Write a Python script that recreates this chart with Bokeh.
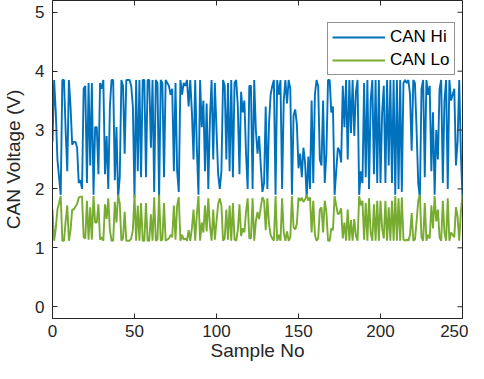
import math
from bokeh.plotting import figure
from bokeh.models import Range1d, FixedTicker, Legend, LegendItem, ColumnDataSource
from bokeh.embed import file_html
from bokeh.resources import INLINE

can_hi = [
    2.8, 3.85, 3.3, 2.5, 2.2, 1.9, 3.85, 3.85, 3.0, 2.3,
    3.85, 3.4, 2.75, 2.8, 2.8, 2.7, 2.1, 2.15, 2.0, 3.7,
    3.75, 2.1, 3.8, 2.4, 3.8, 1.9, 3.05, 3.05, 2.25, 3.8,
    3.7, 3.85, 2.25, 2.9, 2.0, 3.4, 3.85, 3.85, 2.15, 3.05,
    1.85, 2.2, 3.85, 3.75, 2.6, 3.85, 3.85, 3.85, 3.75, 3.4,
    1.85, 3.85, 2.3, 3.85, 2.2, 3.85, 3.85, 2.2, 3.85, 3.85,
    2.7, 3.85, 1.95, 3.85, 3.8, 1.85, 3.85, 3.8, 2.2, 3.85,
    3.8, 3.75, 3.6, 3.7, 2.3, 3.8, 2.3, 1.95, 3.85, 3.6,
    3.8, 3.75, 3.85, 3.4, 3.85, 3.3, 2.5, 3.85, 2.7, 1.9,
    3.85, 3.05, 3.5, 2.3, 3.45, 2.0, 3.2, 3.85, 2.5, 3.8,
    3.0, 2.25, 2.0, 2.3, 3.85, 3.75, 2.5, 3.8, 2.3, 3.85,
    2.2, 3.8, 3.85, 3.4, 2.25, 3.65, 3.3, 3.5, 2.6, 2.0,
    3.75, 3.75, 2.0, 3.85, 3.0, 2.6, 2.9, 2.4, 1.95, 2.1,
    3.4, 2.0, 3.1, 3.6, 3.75, 3.85, 1.9, 3.85, 3.6, 3.85,
    2.0, 3.5, 3.85, 3.45, 3.85, 3.7, 1.9, 3.25, 3.35, 3.1,
    2.35, 2.6, 2.2, 2.7, 2.45, 1.85, 2.55, 2.0, 3.5, 2.1,
    3.6, 3.85, 3.75, 2.5, 2.4, 3.5, 2.1, 2.6, 3.85, 3.85,
    3.3, 3.4, 1.9, 2.3, 2.7, 2.65, 2.45, 3.75, 3.05, 3.85,
    2.5, 3.85, 2.95, 3.85, 2.9, 3.65, 3.85, 1.9, 2.3, 2.1,
    3.8, 2.2, 3.85, 2.0, 3.5, 3.85, 2.25, 3.85, 2.1, 3.85,
    2.1, 3.3, 3.75, 2.1, 3.85, 2.4, 3.85, 2.1, 3.85, 1.9,
    3.85, 2.0, 3.85, 1.95, 3.8, 3.85, 3.8, 3.85, 3.6, 2.65,
    3.85, 3.8, 3.0, 2.1, 1.85, 3.7, 3.85, 2.2, 3.85, 3.6,
    3.75, 2.3, 3.3, 1.9, 3.0, 2.5, 3.7, 3.85, 2.1, 3.5,
    3.85, 2.0, 3.85, 3.5, 3.6, 3.7, 2.4, 2.8, 3.85, 2.6, 1.85,
]

can_lo = [
    1.65, 1.12, 1.33, 1.65, 1.76, 1.88, 1.12, 1.12, 1.45, 1.72,
    1.12, 1.30, 1.65, 1.65, 1.70, 1.75, 1.85, 1.87, 1.87, 1.18,
    1.16, 1.80, 1.14, 1.69, 1.14, 1.88, 1.43, 1.43, 1.74, 1.14,
    1.18, 1.12, 1.74, 1.49, 1.84, 1.30, 1.12, 1.12, 1.78, 1.43,
    1.90, 1.76, 1.12, 1.16, 1.61, 1.12, 1.12, 1.12, 1.16, 1.30,
    1.90, 1.12, 1.72, 1.12, 1.76, 1.12, 1.12, 1.76, 1.12, 1.12,
    1.57, 1.12, 1.86, 1.12, 1.14, 1.90, 1.12, 1.14, 1.76, 1.12,
    1.14, 1.16, 1.22, 1.18, 1.72, 1.14, 1.72, 1.86, 1.12, 1.22,
    1.14, 1.16, 1.12, 1.30, 1.12, 1.33, 1.65, 1.12, 1.57, 1.88,
    1.12, 1.43, 1.26, 1.72, 1.28, 1.84, 1.37, 1.12, 1.65, 1.14,
    1.45, 1.74, 1.84, 1.72, 1.12, 1.16, 1.65, 1.14, 1.72, 1.12,
    1.76, 1.14, 1.12, 1.30, 1.74, 1.20, 1.33, 1.26, 1.61, 1.84,
    1.16, 1.16, 1.84, 1.12, 1.45, 1.61, 1.49, 1.69, 1.86, 1.80,
    1.30, 1.84, 1.41, 1.22, 1.16, 1.12, 1.88, 1.12, 1.22, 1.12,
    1.84, 1.26, 1.12, 1.28, 1.12, 1.18, 1.88, 1.35, 1.31, 1.41,
    1.85, 1.80, 1.85, 1.78, 1.82, 1.90, 1.80, 1.86, 1.26, 1.80,
    1.22, 1.12, 1.16, 1.65, 1.69, 1.26, 1.80, 1.61, 1.12, 1.12,
    1.33, 1.30, 1.88, 1.72, 1.57, 1.59, 1.67, 1.16, 1.43, 1.12,
    1.65, 1.12, 1.47, 1.12, 1.49, 1.20, 1.12, 1.88, 1.72, 1.80,
    1.14, 1.76, 1.12, 1.84, 1.26, 1.12, 1.74, 1.12, 1.80, 1.12,
    1.80, 1.33, 1.16, 1.80, 1.12, 1.69, 1.12, 1.80, 1.12, 1.88,
    1.12, 1.84, 1.12, 1.86, 1.14, 1.12, 1.14, 1.12, 1.22, 1.59,
    1.12, 1.14, 1.45, 1.80, 1.90, 1.18, 1.12, 1.76, 1.12, 1.22,
    1.16, 1.72, 1.33, 1.88, 1.45, 1.65, 1.18, 1.12, 1.80, 1.26,
    1.12, 1.84, 1.12, 1.26, 1.22, 1.18, 1.69, 1.53, 1.12, 1.61, 1.90,
]

sample_no = list(range(len(can_hi)))
x_ticks = [0, 50, 100, 150, 200, 250]
y_ticks = [0, 1, 2, 3, 4, 5]
x_lim = (0, 250)
y_lim = (-0.2, 5.2)

FONT = "Liberation Sans"
DARK = "#262626"

p = figure(width=468, height=363, output_backend="svg", toolbar_location=None,
           x_range=Range1d(*x_lim), y_range=Range1d(*y_lim),
           min_border_left=45, min_border_right=6, min_border_top=0, min_border_bottom=40)

src = ColumnDataSource(dict(x=sample_no, hi=can_hi, lo=can_lo))
r_hi = p.line("x", "hi", source=src, line_color="#0072BD", line_width=1.9)
r_lo = p.line("x", "lo", source=src, line_color="#77AC30", line_width=1.9)

p.xgrid.visible = False
p.ygrid.visible = False
p.outline_line_color = DARK
p.outline_line_width = 1
p.background_fill_color = "white"
p.border_fill_color = "white"

for ax, ticks in ((p.xaxis[0], x_ticks), (p.yaxis[0], y_ticks)):
    ax.ticker = FixedTicker(ticks=ticks)
    ax.major_tick_in = 5
    ax.major_tick_out = 0
    ax.minor_tick_line_color = None
    ax.axis_line_color = DARK
    ax.major_tick_line_color = DARK
    ax.major_label_text_color = DARK
    ax.major_label_text_font = FONT
    ax.major_label_text_font_size = "17px"
    ax.axis_label_text_font = FONT
    ax.axis_label_text_font_size = "19px"
    ax.axis_label_text_font_style = "normal"
    ax.axis_label_text_color = DARK

p.xaxis[0].axis_label = "Sample No"
p.yaxis[0].axis_label = "CAN Voltage (V)"
p.xaxis[0].major_label_standoff = 6
p.xaxis[0].axis_label_standoff = 0
p.yaxis[0].major_label_standoff = 8
p.yaxis[0].axis_label_standoff = 8

# inward tick marks on the top and right edges of the box (MATLAB "box on")
p.ray(x=x_ticks, y=[y_lim[1]] * len(x_ticks), length=5, angle=-math.pi / 2,
      length_units="screen", line_color=DARK, line_width=1)
p.ray(x=[x_lim[1]] * len(y_ticks), y=y_ticks, length=5, angle=math.pi,
      length_units="screen", line_color=DARK, line_width=1)

legend = Legend(items=[LegendItem(label="CAN Hi", renderers=[r_hi]),
                       LegendItem(label="CAN Lo", renderers=[r_lo])],
                location=(275, 243), orientation="vertical")
legend.label_text_font = FONT
legend.label_text_font_size = "17px"
legend.label_text_color = "black"
legend.glyph_width = 53
legend.glyph_height = 18
legend.label_height = 18
legend.label_standoff = 5
legend.spacing = 3
legend.padding = 4
legend.margin = 0
legend.border_line_color = DARK
legend.border_line_width = 1
legend.background_fill_color = "white"
legend.background_fill_alpha = 1
p.add_layout(legend, "center")

open("out.html", "w").write(file_html(p, INLINE))
